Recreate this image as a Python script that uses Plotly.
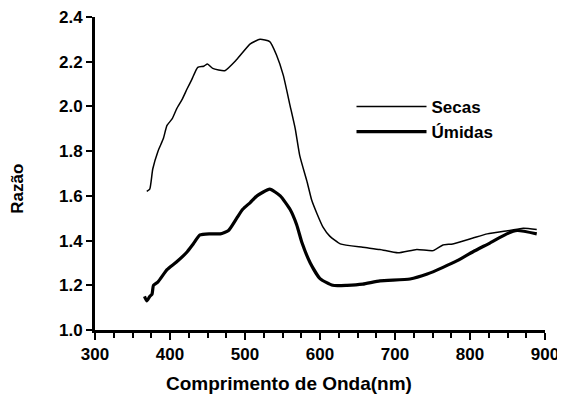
import plotly.graph_objects as go

# Data
secas_wl = [369, 373, 377, 384, 391, 396, 403, 409, 416, 423, 429, 437, 445, 450, 457,
            473, 489, 507, 520, 533, 542, 551, 560, 567, 573, 583, 589, 596, 604, 613,
            627, 657, 680, 704, 729, 751, 764, 777, 803, 823, 853, 871, 889]
secas_val = [1.62, 1.63, 1.72, 1.80, 1.855, 1.915, 1.945, 1.99, 2.03, 2.08, 2.12, 2.175,
             2.18, 2.19, 2.17, 2.16, 2.21, 2.28, 2.30, 2.29, 2.23, 2.14, 2.005, 1.90, 1.78,
             1.66, 1.58, 1.52, 1.46, 1.42, 1.385, 1.37, 1.36, 1.345, 1.36, 1.355, 1.38,
             1.385, 1.41, 1.43, 1.445, 1.455, 1.45]

umidas_wl = [366, 369, 373, 376, 378, 384, 396, 409, 423, 431, 440, 453, 467, 478, 489,
             497, 507, 516, 533, 547, 560, 569, 576, 587, 600, 617, 636, 657, 680, 720,
             743, 764, 783, 804, 827, 849, 863, 889]
umidas_val = [1.15, 1.13, 1.15, 1.16, 1.20, 1.215, 1.27, 1.305, 1.35, 1.385, 1.425, 1.43,
              1.43, 1.445, 1.50, 1.54, 1.57, 1.60, 1.63, 1.60, 1.54, 1.47, 1.39, 1.30,
              1.23, 1.20, 1.20, 1.205, 1.22, 1.228, 1.25, 1.28, 1.31, 1.35, 1.39, 1.43,
              1.445, 1.43]

x_ticks = [300, 400, 500, 600, 700, 800, 900]
y_ticks = [1.0, 1.2, 1.4, 1.6, 1.8, 2.0, 2.2, 2.4]
y_labels = ["1.0", "1.2", "1.4", "1.6", "1.8", "2.0", "2.2", "2.4"]

FONT = "Liberation Sans"

fig = go.Figure()
fig.add_trace(go.Scatter(x=secas_wl, y=secas_val, mode="lines", name="Secas",
                         line=dict(color="black", width=1.5, shape="spline", smoothing=0.5)))
fig.add_trace(go.Scatter(x=umidas_wl, y=umidas_val, mode="lines", name="Úmidas",
                         line=dict(color="black", width=3.2, shape="spline", smoothing=0.5)))

# page body has an 8px margin, so the figure is sized to fit the 565x394 window
fig.update_layout(
    width=557, height=386,
    margin=dict(l=87, r=20, t=9, b=64, autoexpand=False),
    paper_bgcolor="white", plot_bgcolor="white",
    font=dict(family=FONT, size=17, color="black", weight="bold"),
    showlegend=True,
    legend=dict(x=0.57, y=0.77, xanchor="left", yanchor="top",
                bgcolor="rgba(0,0,0,0)", itemwidth=70, tracegroupgap=0,
                font=dict(family=FONT, size=17, color="black", weight="bold")),
    xaxis=dict(range=[300, 900], tickvals=x_ticks, showgrid=False, zeroline=False,
               automargin=False, ticklabeloverflow="allow",
               showline=True, linecolor="black", linewidth=3,
               ticks="outside", ticklen=7, tickwidth=2, tickcolor="black",
               minor=dict(dtick=25, tick0=300, ticks="outside", ticklen=5,
                          tickwidth=1.5, tickcolor="black", showgrid=False),
               tickfont=dict(family=FONT, size=17, color="black", weight="bold")),
    yaxis=dict(range=[1.0, 2.4], tickvals=y_ticks, ticktext=y_labels, showgrid=False,
               automargin=False, ticklabeloverflow="allow",
               zeroline=False, showline=True, linecolor="black", linewidth=3,
               ticks="outside", ticklen=6, tickwidth=2, tickcolor="black",
               tickfont=dict(family=FONT, size=17, color="black", weight="bold")),
    annotations=[
        dict(text="Comprimento de Onda(nm)", xref="paper", yref="paper",
             x=0.43, y=-0.17, xanchor="center", yanchor="middle", showarrow=False,
             font=dict(family=FONT, size=19, color="black", weight="bold")),
        dict(text="Razão", xref="paper", yref="paper", textangle=-90,
             x=-0.172, y=0.45, xanchor="center", yanchor="middle", showarrow=False,
             font=dict(family=FONT, size=17, color="black", weight="bold")),
    ],
)

fig.write_html("out.html")
